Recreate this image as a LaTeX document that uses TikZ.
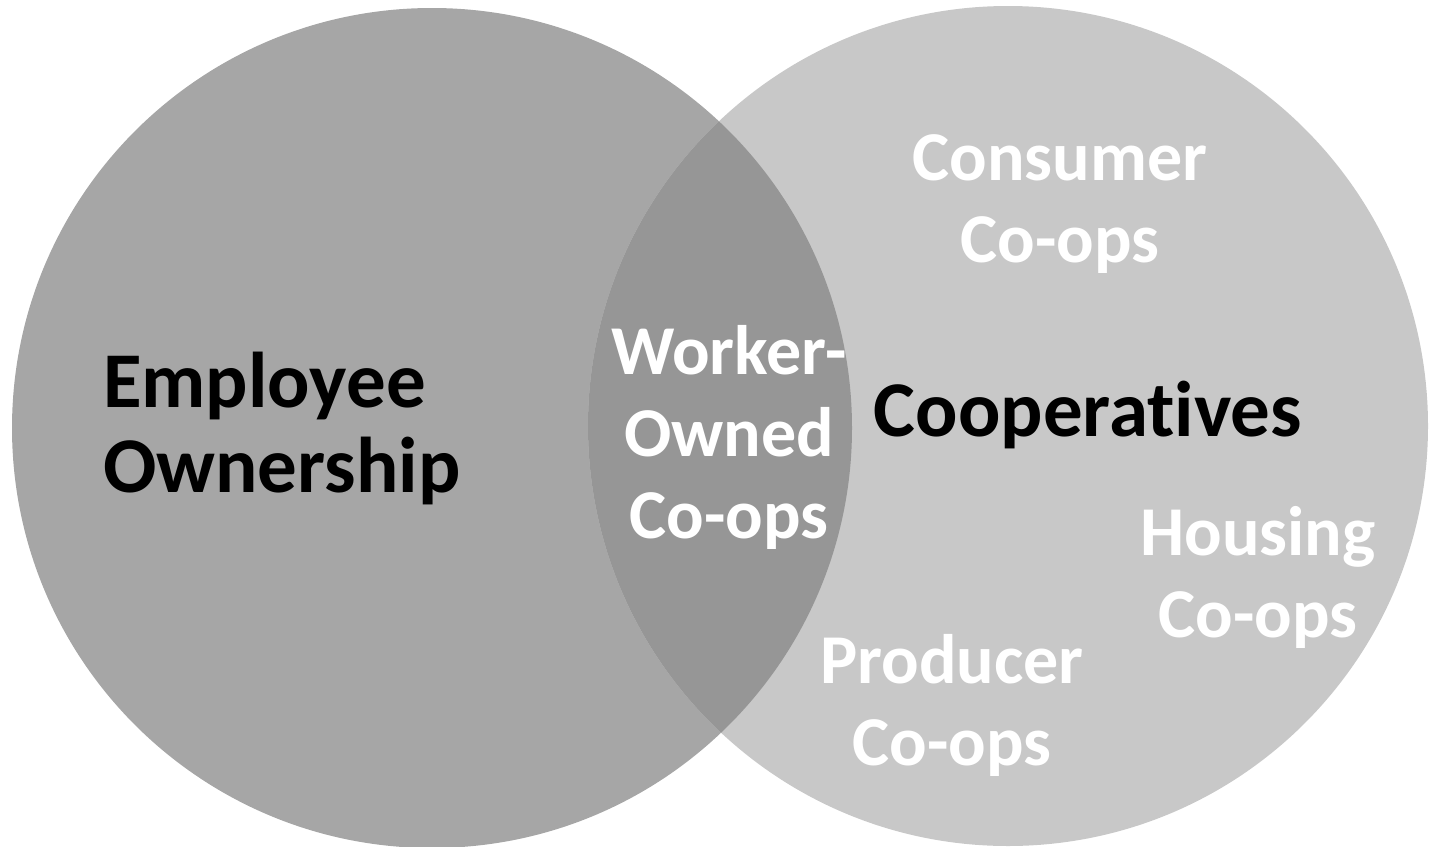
\documentclass[tikz,border=0pt]{standalone}
\usepackage{fontspec}
\setmainfont[Ligatures=NoCommon]{Carlito}
\definecolor{leftgray}{HTML}{A6A6A6}
\definecolor{rightgray}{HTML}{C8C8C8}
\definecolor{overgray}{HTML}{969696}
\begin{document}
\begin{tikzpicture}[x=1pt,y=-1pt,
  lbl/.style={inner sep=0pt,align=center,anchor=base},
  wlbl/.style={lbl,text=white,font=\bfseries\fontsize{70}{82}\selectfont},
  blbl/.style={lbl,text=black,font=\bfseries\fontsize{79}{85}\selectfont}]
\useasboundingbox (0,0) rectangle (1429,846);
\fill[leftgray] (432,428) circle[radius=420];
\fill[rightgray] (1008,426) circle[radius=420];
\begin{scope}
  \clip (432,428) circle[radius=420];
  \fill[overgray] (1008,426) circle[radius=420];
\end{scope}
\node[blbl,align=left,anchor=base west] (eo) at (103,492) {Employee\\Ownership};
\node[wlbl] (wo) at (729,538) {Worker-\\Owned\\Co-ops};
\node[blbl] (coop) at (1088,436) {Cooperatives};
\node[wlbl] (cons) at (1060,262) {Consumer\\Co-ops};
\node[wlbl] (hous) at (1258,637) {Housing\\Co-ops};
\node[wlbl] (prod) at (952,765) {Producer\\Co-ops};
\end{tikzpicture}
\end{document}
